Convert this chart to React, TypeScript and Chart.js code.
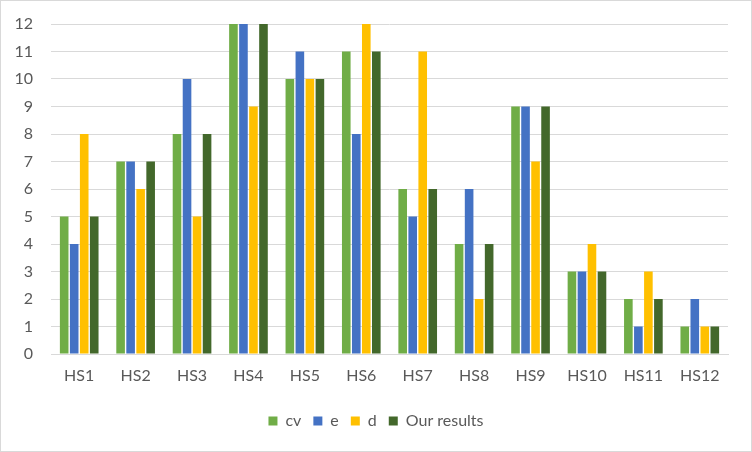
import React, { useEffect, useRef } from "react";
import { Chart, registerables } from "chart.js";

Chart.register(...registerables);

const categories = ["HS1", "HS2", "HS3", "HS4", "HS5", "HS6", "HS7", "HS8", "HS9", "HS10", "HS11", "HS12"];
const cvValues = [5, 7, 8, 12, 10, 11, 6, 4, 9, 3, 2, 1];
const eValues = [4, 7, 10, 12, 11, 8, 5, 6, 9, 3, 1, 2];
const dValues = [8, 6, 5, 9, 10, 12, 11, 2, 7, 4, 3, 1];
const ourValues = [5, 7, 8, 12, 10, 11, 6, 4, 9, 3, 2, 1];
const yTicks = [0, 1, 2, 3, 4, 5, 6, 7, 8, 9, 10, 11, 12];

const FONT = "Lato, 'Open Sans', sans-serif";
const TEXT = "#595959";

export default function App() {
  const ref = useRef<HTMLCanvasElement | null>(null);
  useEffect(() => {
    document.body.style.margin = "0";
    if (!ref.current) return;
    const mk = (label: string, data: number[], color: string) => ({
      label,
      data,
      backgroundColor: color,
      borderWidth: 0,
      barPercentage: 0.86,
      categoryPercentage: 0.71,
      yAxisID: "y",
    });
    const chart = new Chart(ref.current, {
      type: "bar",
      data: {
        labels: categories,
        datasets: [
          mk("cv", cvValues, "#70AD47"),
          mk("e", eValues, "#4472C4"),
          mk("d", dValues, "#FFC000"),
          mk("Our results", ourValues, "#43682B"),
        ],
      },
      options: {
        animation: false,
        responsive: false,
        layout: { padding: { top: 23, right: 0, left: 0, bottom: 12 } },
        plugins: {
          legend: {
            position: "bottom",
            labels: {
              boxWidth: 9,
              boxHeight: 9,
              padding: 12,
              color: TEXT,
              font: { family: FONT, size: 16 },
            },
          },
          tooltip: { enabled: false },
        },
        scales: {
          x: {
            grid: { display: false, drawTicks: false },
            border: { color: "#D9D9D9", width: 1 },
            ticks: { color: TEXT, font: { family: FONT, size: 16 }, padding: 12 },
            afterFit: (s: any) => { s.height = 47; },
          },
          y: {
            min: 0,
            max: 12,
            afterBuildTicks: (s: any) => { s.ticks = yTicks.map((v) => ({ value: v })); },
            grid: { color: "#D9D9D9", drawTicks: false },
            border: { display: false },
            ticks: { color: TEXT, font: { family: FONT, size: 16 }, padding: 18, stepSize: 1 },
            afterFit: (s: any) => { s.width = 50; s.paddingTop = 0; s.paddingBottom = 0; },
          },
          yPad: {
            position: "right",
            display: true,
            min: 0,
            max: 12,
            grid: { display: false, drawTicks: false },
            border: { display: false },
            ticks: { display: false },
            afterFit: (s: any) => { s.width = 23; s.paddingTop = 0; s.paddingBottom = 0; },
          },
        },
      },
    });
    return () => chart.destroy();
  }, []);
  return (
    <div style={{ width: 752, height: 452, boxSizing: "border-box", border: "1px solid #D9D9D9", background: "#fff" }}>
      <canvas ref={ref} width={750} height={450} style={{ display: "block" }} />
    </div>
  );
}
